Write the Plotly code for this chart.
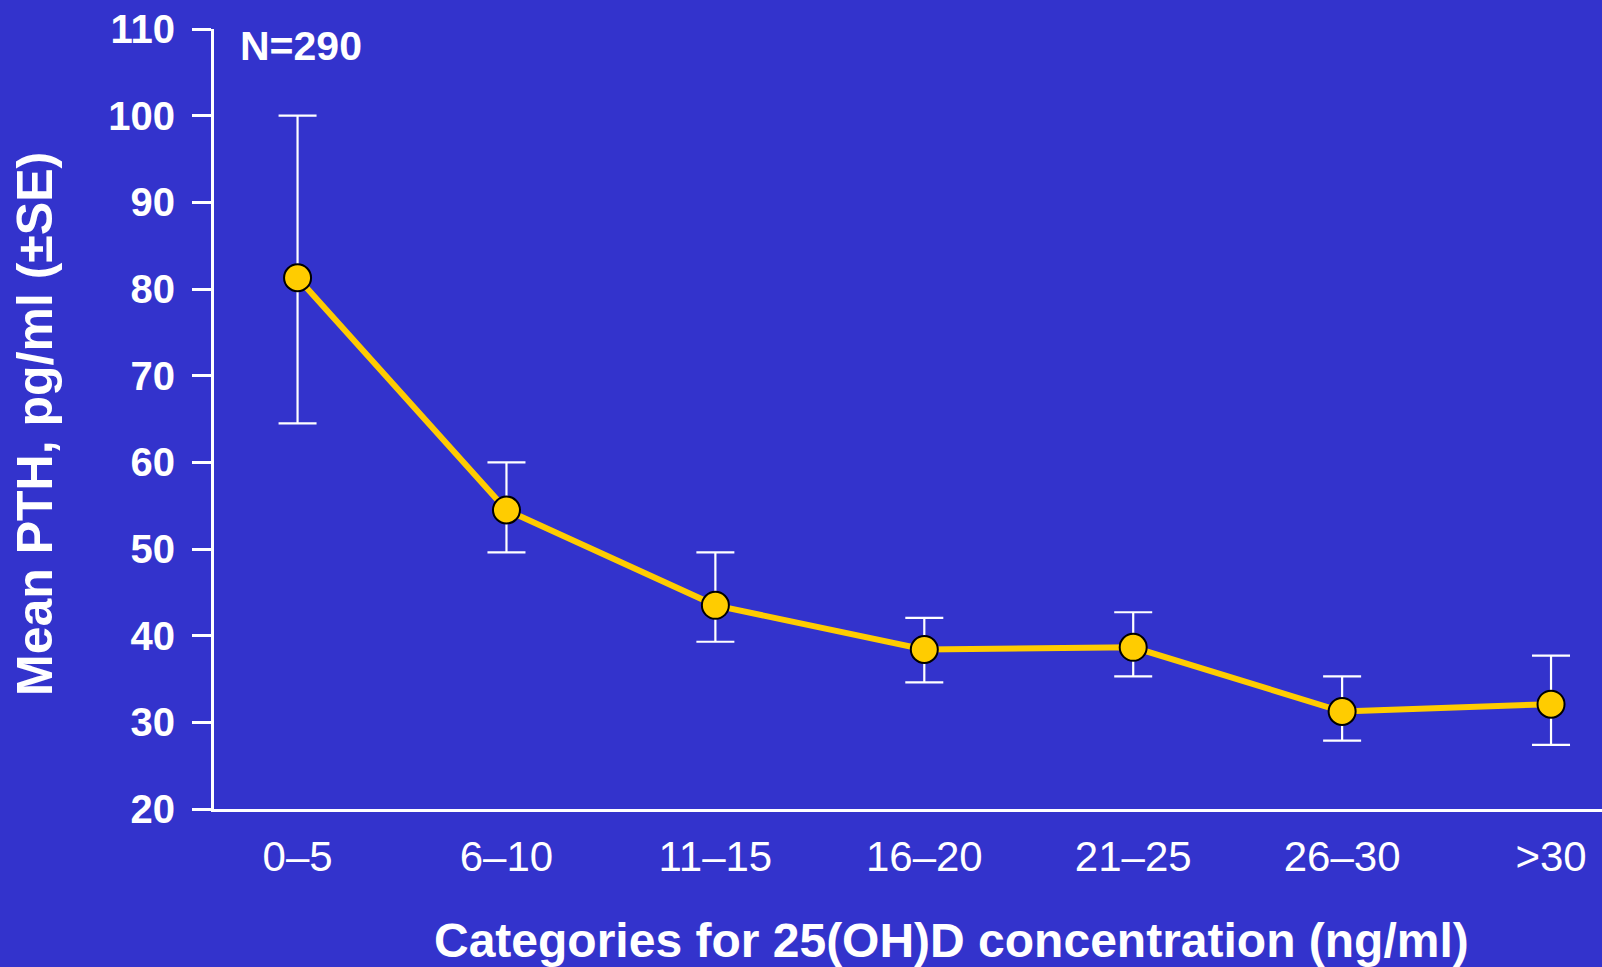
import plotly.graph_objects as go

categories = ["0–5", "6–10", "11–15", "16–20", "21–25", "26–30", ">30"]
mean_pth = [81.3, 54.5, 43.5, 38.4, 38.65, 31.25, 32.1]
se_upper = [100.0, 60.0, 49.6, 42.05, 42.7, 35.3, 37.7]
se_lower = [64.5, 49.6, 39.3, 34.6, 35.3, 27.9, 27.4]
y_ticks = [20, 30, 40, 50, 60, 70, 80, 90, 100, 110]

err_plus = [u - m for u, m in zip(se_upper, mean_pth)]
err_minus = [m - l for m, l in zip(mean_pth, se_lower)]

BG = "#3333CC"
FONT = "Liberation Sans, Arial, sans-serif"

W, H = 1602, 967
ML, MR, MT, MB = 214, 0, 29, 158
pw, ph = W - ML - MR, H - MT - MB


def px_x(px):
    return (px - ML) / pw


def px_y(py):
    return (H - MB - py) / ph


fig = go.Figure()
fig.add_trace(go.Scatter(
    x=categories, y=mean_pth,
    mode="lines+markers",
    line=dict(color="#FFCC00", width=6),
    marker=dict(size=27, color="#FFCC00", line=dict(color="black", width=2)),
    error_y=dict(type="data", array=err_plus, arrayminus=err_minus,
                 color="white", thickness=2.2, width=19),
    showlegend=False,
))

fig.update_layout(
    width=W, height=H,
    paper_bgcolor=BG, plot_bgcolor=BG,
    margin=dict(l=ML, r=MR, t=MT, b=MB),
    font=dict(family=FONT, color="white"),
    xaxis=dict(
        type="category", range=[-0.4, 6.244],
        showgrid=False, zeroline=False,
        showline=True, linecolor="white", linewidth=3,
        ticks="", ticklabelstandoff=9,
        tickfont=dict(size=42, family=FONT, color="white"),
    ),
    yaxis=dict(
        range=[20, 110], tickvals=y_ticks,
        showgrid=False, zeroline=False,
        showline=True, linecolor="white", linewidth=3,
        ticks="outside", ticklen=19, tickwidth=3, tickcolor="white",
        ticklabelstandoff=9,
        tickfont=dict(size=40, family=FONT, color="white", weight="bold"),
    ),
    annotations=[
        dict(text="<b>N=290</b>", x=px_x(238), y=px_y(46),
             xref="paper", yref="paper",
             xanchor="left", yanchor="middle", showarrow=False,
             font=dict(size=41, color="white", family=FONT)),
        dict(text="<b>Categories for 25(OH)D concentration (ng/ml)</b>",
             x=px_x(951), y=px_y(940), xref="paper", yref="paper",
             xanchor="center", yanchor="middle", showarrow=False,
             font=dict(size=48, color="white", family=FONT)),
        dict(text="<b>Mean PTH, pg/ml (±SE)</b>",
             x=px_x(35), y=px_y(424), xref="paper", yref="paper",
             textangle=-90,
             xanchor="center", yanchor="middle", showarrow=False,
             font=dict(size=50, color="white", family=FONT)),
    ],
)

fig.write_html(
    "out.html",
    config={"displayModeBar": False},
    post_script="document.body.style.margin='0px';document.body.style.overflow='hidden';",
)
